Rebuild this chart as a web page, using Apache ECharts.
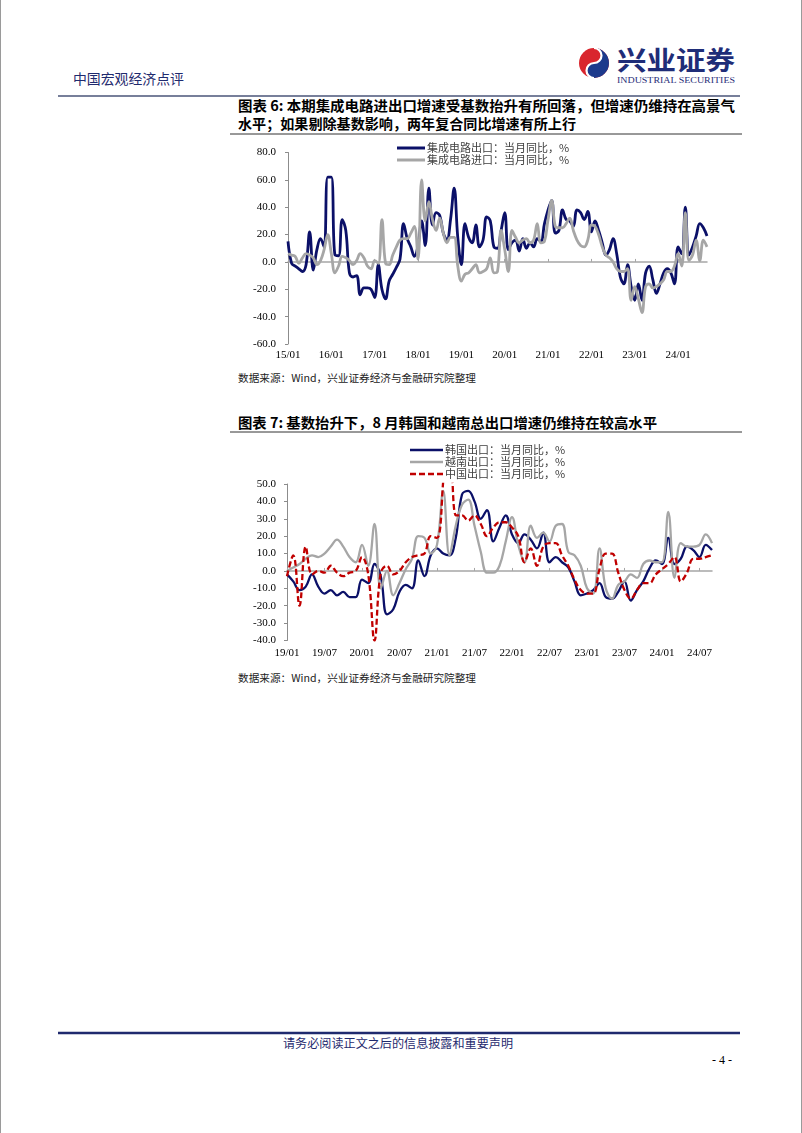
<!DOCTYPE html>
<html><head><meta charset="utf-8">
<script src="https://cdn.jsdelivr.net/npm/echarts/dist/echarts.min.js"></script>
<style>
html,body{margin:0;padding:0;background:#fff;}
#page{position:relative;width:802px;height:1133px;overflow:hidden;background:#fff;}
#c1{position:absolute;left:230px;top:138px;width:512px;height:232px;}
#c2{position:absolute;left:230px;top:440px;width:512px;height:232px;}
svg{position:absolute;left:0;top:0;}
#legendLayer{z-index:5;pointer-events:none;}
</style></head><body><div id="page">
<svg width="802" height="1133" xmlns="http://www.w3.org/2000/svg">
  <line x1="0.5" y1="0" x2="0.5" y2="1133" stroke="#9a9a9a" stroke-width="1"/>
  <line x1="801.5" y1="0" x2="801.5" y2="1133" stroke="#9a9a9a" stroke-width="1"/>
  <text x="73" y="84" textLength="111" lengthAdjust="spacingAndGlyphs" font-size="14" fill="#1f2a6e" font-family="Noto Sans CJK SC">中国宏观经济点评</text>
  <circle cx="594" cy="63" r="15" fill="#d9262e"/>
  <path d="M594,48 A15,15 0 0 1 594,78 A7.5,7.5 0 0 1 594,63 A7.5,7.5 0 0 0 594,48 Z" fill="#1d3a8c"/>
  <path d="M594,48 A7.5,7.5 0 0 1 594,63 A7.5,7.5 0 0 0 594,78" fill="none" stroke="#fff" stroke-width="2.2"/>
  <text x="617" y="70" textLength="118" lengthAdjust="spacingAndGlyphs" font-size="26" font-weight="700" fill="#1f2d78" font-family="Noto Sans CJK SC">兴业证券</text>
  <text x="617" y="83" textLength="118" lengthAdjust="spacingAndGlyphs" font-size="8.5" fill="#1f2d78" font-family="Liberation Serif">INDUSTRIAL SECURITIES</text>
  <line x1="58" y1="96" x2="740" y2="96" stroke="#4a5578" stroke-width="1.6"/>
  <text x="238" y="111" textLength="497" lengthAdjust="spacingAndGlyphs" font-size="14" font-weight="700" fill="#000" font-family="Noto Sans CJK SC">图表 6: 本期集成电路进出口增速受基数抬升有所回落，但增速仍维持在高景气</text>
  <text x="238" y="129" textLength="338" lengthAdjust="spacingAndGlyphs" font-size="14" font-weight="700" fill="#000" font-family="Noto Sans CJK SC">水平；如果剔除基数影响，两年复合同比增速有所上行</text>
  <line x1="230" y1="134" x2="742" y2="134" stroke="#333" stroke-width="1"/>
  <text x="238" y="382" textLength="238" lengthAdjust="spacingAndGlyphs" font-size="10.5" fill="#222" font-family="Noto Sans CJK SC">数据来源：Wind，兴业证券经济与金融研究院整理</text>
  <text x="238" y="428" textLength="419" lengthAdjust="spacingAndGlyphs" font-size="14" font-weight="700" fill="#000" font-family="Noto Sans CJK SC">图表 7: 基数抬升下，8 月韩国和越南总出口增速仍维持在较高水平</text>
  <line x1="230" y1="432" x2="742" y2="432" stroke="#333" stroke-width="1"/>
  <text x="238" y="682" textLength="238" lengthAdjust="spacingAndGlyphs" font-size="10.5" fill="#222" font-family="Noto Sans CJK SC">数据来源：Wind，兴业证券经济与金融研究院整理</text>
  <line x1="58" y1="1033" x2="740" y2="1033" stroke="#1f2a6e" stroke-width="2.5"/>
  <text x="283" y="1048" textLength="230" lengthAdjust="spacingAndGlyphs" font-size="12" fill="#1f2a6e" font-family="Noto Sans CJK SC">请务必阅读正文之后的信息披露和重要声明</text>
  <text x="712" y="1064" font-size="12" fill="#000" font-family="Liberation Serif">- 4 -</text>
</svg>
<div id="c1"></div><div id="c2"></div>
<svg id="legendLayer" width="802" height="1133" xmlns="http://www.w3.org/2000/svg"></svg>
</div>
<script>
// ---------- categories (axis positions, yy/mm) ----------
function monthLabels(y0, m0, count) {
  var out = [];
  for (var k = 0; k < count; k++) {
    var t = (y0 * 12 + (m0 - 1)) + k;
    var y = Math.floor(t / 12), m = t % 12 + 1;
    out.push(String(y).padStart(2, '0') + '/' + String(m).padStart(2, '0'));
  }
  return out;
}
var cats1 = monthLabels(15, 1, 117);   // 15/01 ... 24/09
var cats2 = monthLabels(19, 1, 69);    // 19/01 ... 24/09

// ---------- chart 1: 集成电路 ----------
var icExport = [15,-1,-3,-5,-7,-2,22,-6,9,17,11,62,62,5,4.5,31,23,-8,-11,-10,-24,-19,-19,-20,-26,-2,-20,-27,-14,-9,-4,2,28,17,11,4,12,30,12,54,27,36,34,21,16,31,54,18,-2,28,18,14,27,11,16,33,30,11,10,23,36,9,14,16,8,17,10,14,11,17,15,28,38,45,21,23,38,31,30,26,38,36,31,37,22,30,23,14,5,9,17,6,-11,-16,-2,-18,-28,-16,-28,-8,-3,-13,-23,-16,-8,-5,-8,-16,11,6,40,5,11,19,28,25,19];
var icImport = [6,5,4,-1,3,6,5,3,-2,1,9,20,6,-8,-3,4,3,1,-2,1,6,3,-3,-5,1,-1,31,-1,-2,5,11,16,17,17,21,26,2,60,30,44,31,23,32,21,14,18,18,-3,-14,-9,-8,-5,-2,-8,-7,-5,3,-8,-7,23,9,-7,23,18,14,16,17,14,16,28,14,15,31,45,26,25,25,28,32,23,16,12,11,16,27,26,20,11,5,3,0,-5,-7,-7,-5,-28,-18,-27,-37,-18,-16,-19,-18,-16,-13,-7,-7,-3,6,-3,36,1,5,16,1,16,11];
var names1 = ['集成电路出口：当月同比，%', '集成电路进口：当月同比，%'];
var yTicks1 = {min: -60, max: 80, interval: 20};

// ---------- chart 2: 韩国 / 越南 / 中国 ----------
var koreaExp = [-2,-6,-11,-9,-2,-9,-13,-11,-14,-12,-15,-15,-5,-7,4,-3,-25,-22,-12,-8,-10,6,-3,9,13,10,9,19,44,46,40,30,35,17,25,32,21,16,21,18,13,22,5,8,5,2,-6,-14,-13,-11,-7,-15,-16,-12,-6,-17,-11,-6,1.5,6,4,19,4,7,14,12,8,15,12];
var vietnamExp = [0,2,4,7,9,8,10,14,18,14,8,5,15,3,27,-10,0,-14,-7,1,7,20,19,10,15,46,9,26,38,41,26,11,-1,-1,3,17,31,15,5,26,19,22,17,26,27,11,9,3,-10,-13,13,-10,-16,-8,-6,-2,-4,4,6,5,5,34,-4,16,14,14,15,21,16];
var chinaExp = [-3,9,-20,14,-2,0,-1,3,-1,-3,-1,0,8,-2,-40,-1,3,-2,0,5,8,9,10,20,19,52,100,32,32,29,32,27,20,25,28,28,25,20,5,13,3,14,16,16,9,3,-5,-11,-13,-13,1,10,10,-1,-11,-16,-11,-7,-7,-2,1,4,8,-6,-1,7,7,8,9];
var names2 = ['韩国出口：当月同比，%', '越南出口：当月同比，%', '中国出口：当月同比，%'];
var yTicks2 = {min: -40, max: 50, interval: 10};

var NUM_FONT = 'Liberation Serif';
var CJK_FONT = 'Noto Sans CJK SC';
var AXIS_GRAY = '#8c8c8c';

function buildOption(cfg) {
  return {
    animation: false,
    backgroundColor: 'transparent',
    legend: {show: false},
    grid: {left: cfg.grid[0], top: cfg.grid[1], width: cfg.grid[2], height: cfg.grid[3], containLabel: false},
    xAxis: [{
      type: 'category', data: cfg.cats, boundaryGap: false, position: 'bottom',
      axisLine: {show: false, onZero: false}, axisTick: {show: false},
      axisLabel: {interval: cfg.labelInterval, fontFamily: NUM_FONT, fontSize: 11, color: '#000', margin: cfg.xMargin, hideOverlap: false},
      splitLine: {show: false}
    }, {
      type: 'category', data: cfg.cats, boundaryGap: false, position: 'top',
      axisLine: {show: true, onZero: true, lineStyle: {color: '#a6a6a6', width: 1.5}},
      axisTick: {show: true, interval: cfg.labelInterval, length: 3, inside: false, lineStyle: {color: '#a6a6a6'}},
      axisLabel: {show: false}, splitLine: {show: false}
    }],
    yAxis: {
      type: 'value', min: cfg.yTicks.min, max: cfg.yTicks.max, interval: cfg.yTicks.interval,
      axisLine: {show: true, lineStyle: {color: AXIS_GRAY, width: 1}},
      axisTick: {show: true, length: 3, lineStyle: {color: AXIS_GRAY}},
      splitLine: {show: false},
      axisLabel: {formatter: function (v) { return v.toFixed(1); }, fontFamily: NUM_FONT, fontSize: 11, color: '#000', margin: cfg.yMargin}
    },
    series: cfg.series.map(function (s) {
      return {
        name: s.name, type: 'line', data: s.data, xAxisIndex: 0, yAxisIndex: 0,
        smooth: 0.4, symbol: 'none', showSymbol: false, clip: true,
        lineStyle: {color: s.color, width: s.width, type: s.dash || 'solid'},
        itemStyle: {color: s.color}, emphasis: {disabled: true}
      };
    })
  };
}

// legend drawn as real SVG text next to line keys
var NS = 'http://www.w3.org/2000/svg';
var legendLayer = document.getElementById('legendLayer');
function drawLegend(x, y0, w, rowH, series) {
  series.forEach(function (s, k) {
    var y = y0 + k * rowH;
    var ln = document.createElementNS(NS, 'line');
    ln.setAttribute('x1', x); ln.setAttribute('x2', x + w);
    ln.setAttribute('y1', y); ln.setAttribute('y2', y);
    ln.setAttribute('stroke', s.color); ln.setAttribute('stroke-width', s.legendWidth);
    if (s.dash) ln.setAttribute('stroke-dasharray', s.dash.join(','));
    legendLayer.appendChild(ln);
    var tx = document.createElementNS(NS, 'text');
    tx.setAttribute('x', x + w + 2); tx.setAttribute('y', y + 4);
    tx.setAttribute('font-size', '11'); tx.setAttribute('font-family', CJK_FONT);
    tx.setAttribute('fill', '#404040');
    tx.textContent = s.name;
    legendLayer.appendChild(tx);
  });
}

var series1 = [
  {name: names1[0], data: icExport, color: '#0b1068', width: 2.8, legendWidth: 3},
  {name: names1[1], data: icImport, color: '#a6a6a6', width: 2.8, legendWidth: 3}
];
var series2 = [
  {name: names2[0], data: koreaExp, color: '#0b1068', width: 2.3, legendWidth: 2.5},
  {name: names2[1], data: vietnamExp, color: '#a6a6a6', width: 2.3, legendWidth: 2.5},
  {name: names2[2], data: chinaExp, color: '#c00000', width: 2.3, legendWidth: 2.5, dash: [6, 3]}
];

var chart1 = echarts.init(document.getElementById('c1'));
chart1.setOption(buildOption({
  cats: cats1, yTicks: yTicks1, labelInterval: 11, xMargin: 6, yMargin: 12,
  grid: [58, 14.5, 419, 191.5], series: series1
}));
drawLegend(397, 148, 28, 12, series1);

var chart2 = echarts.init(document.getElementById('c2'));
chart2.setOption(buildOption({
  cats: cats2, yTicks: yTicks2, labelInterval: 5, xMargin: 7, yMargin: 11,
  grid: [57, 44, 425, 156.5], series: series2
}));
drawLegend(410, 450, 33, 12, series2);
</script>
</body></html>
